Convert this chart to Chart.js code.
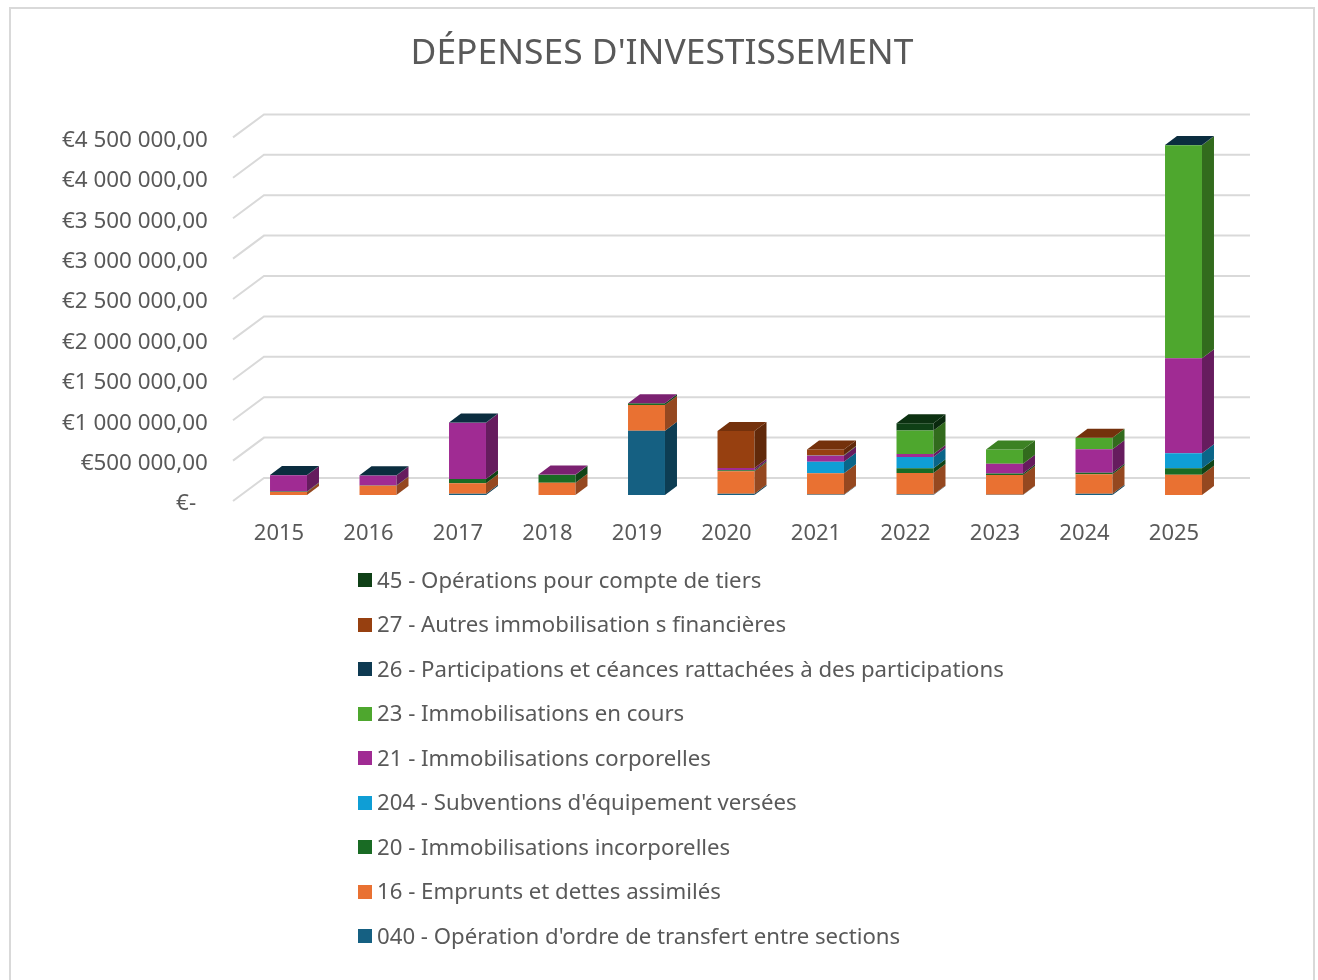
<!DOCTYPE html>
<html lang="fr">
<head>
<meta charset="utf-8">
<title>Dépenses d'investissement</title>
<script src="https://cdn.jsdelivr.net/npm/chart.js@4"></script>
<style>
    html, body { margin: 0; padding: 0; background: #fff; overflow: hidden; }
    body { width: 1318px; height: 980px; position: relative; font-family: "Noto Sans", sans-serif; }
    #card { position: absolute; left: 9px; top: 7px; width: 1302px; height: 1000px; border: 2px solid #d9d9d9; }
    #chart { position: absolute; left: 0; top: 0; }
    #legend { position: absolute; left: 347px; top: 548px; margin: 0; padding: 0; list-style: none; }
    #legend li { height: 44.5px; display: flex; align-items: center; color: #595959; font-size: 22.2px; white-space: nowrap; }
    #legend i { display: block; width: 14px; height: 14px; margin: 2px 5px 0 0; }
</style>
</head>
<body>
<div id="card">
    <canvas id="chart" width="1302" height="560"></canvas>
    <ul id="legend"></ul>
</div>
<script>
const years = ['2015', '2016', '2017', '2018', '2019', '2020', '2021', '2022', '2023', '2024', '2025'];
const yTickLabels = ['€-\u00a0\u00a0', '€500 000,00', '€1 000 000,00', '€1 500 000,00', '€2 000 000,00', '€2 500 000,00', '€3 000 000,00', '€3 500 000,00', '€4 000 000,00', '€4 500 000,00'];

const s040 = [0, 0, 16000, 0, 796000, 14000, 6000, 5000, 3000, 15000, 0];
const s16 = [36000, 115000, 128000, 153000, 318000, 280000, 264000, 268000, 243000, 243000, 252000];
const s20 = [8000, 3000, 54000, 99000, 20000, 12000, 0, 58000, 20000, 16000, 78000];
const s204 = [0, 0, 0, 0, 0, 0, 140000, 140000, 0, 0, 186000];
const s21 = [200000, 124000, 697000, 2000, 1000, 29000, 78000, 37000, 120000, 293000, 1176000];
const s23 = [0, 0, 0, 0, 0, 0, 8000, 289000, 177000, 140000, 2636000];
const s26 = [2000, 2000, 2000, 0, 0, 0, 0, 0, 0, 0, 2000];
const s27 = [0, 0, 0, 0, 0, 458000, 66000, 0, 0, 2000, 0];
const s45 = [0, 0, 0, 0, 0, 0, 0, 91000, 0, 0, 0];

const series = [
    { label: "040 - Opération d'ordre de transfert entre sections", data: s040, color: '#156082' },
    { label: '16 - Emprunts et dettes assimilés', data: s16, color: '#E97132' },
    { label: '20 - Immobilisations incorporelles', data: s20, color: '#196B24' },
    { label: "204 - Subventions d'équipement versées", data: s204, color: '#0F9ED5' },
    { label: '21 - Immobilisations corporelles', data: s21, color: '#A02B93' },
    { label: '23 - Immobilisations en cours', data: s23, color: '#4EA72E' },
    { label: '26 - Participations et céances rattachées à des participations', data: s26, color: '#0E3A52' },
    { label: '27 - Autres immobilisation s financières', data: s27, color: '#974010' },
    { label: '45 - Opérations pour compte de tiers', data: s45, color: '#0F4016' }
];

// darken a #rrggbb colour for the faces of the 3D bars
function shade(hex, f) {
    const n = parseInt(hex.slice(1), 16);
    const r = Math.round((n >> 16 & 255) * f);
    const g = Math.round((n >> 8 & 255) * f);
    const b = Math.round((n & 255) * f);
    return `rgb(${r},${g},${b})`;
}

function poly(ctx, pts, fill) {
    ctx.beginPath();
    pts.forEach((p, i) => i ? ctx.lineTo(p[0], p[1]) : ctx.moveTo(p[0], p[1]));
    ctx.closePath();
    ctx.fillStyle = fill;
    ctx.fill();
}

// the title is centred on the card, not on the padded plot
const centerTitle = {
    id: 'centerTitle',
    afterLayout(chart) {
        chart.titleBlock.right = chart.width;
    }
};

// walls of the 3D frame, behind the bars
const wallGrid = {
    id: 'wallGrid',
    beforeDatasetsDraw(chart) {
        const ctx = chart.ctx;
        const y = chart.scales.y;
        ctx.save();
        ctx.strokeStyle = '#d9d9d9';
        ctx.lineWidth = 2;
        y.ticks.forEach(t => {
            const p = y.getPixelForValue(t.value);
            ctx.beginPath();
            ctx.moveTo(222, p + 6);
            ctx.lineTo(253, p - 17);
            ctx.lineTo(1239, p - 17);
            ctx.stroke();
        });
        ctx.restore();
    }
};

// side and top faces of each stacked bar
const barFaces = {
    id: 'barFaces',
    afterDatasetsDraw(chart) {
        const ctx = chart.ctx;
        const dx = 12, dy = -9;
        ctx.save();
        years.forEach((yr, i) => {
            let top = null;
            chart.data.datasets.forEach((ds, d) => {
                if (!ds.data[i]) return;
                const bar = chart.getDatasetMeta(d).data[i];
                const right = bar.x + bar.width / 2;
                poly(ctx, [[right, bar.y], [right + dx, bar.y + dy], [right + dx, bar.base + dy], [right, bar.base]], shade(ds.backgroundColor, 0.64));
                top = { bar, color: ds.backgroundColor };
            });
            if (top) {
                const left = top.bar.x - top.bar.width / 2;
                const right = top.bar.x + top.bar.width / 2;
                const py = top.bar.y;
                poly(ctx, [[left, py], [left + dx, py + dy], [right + dx, py + dy], [right, py]], shade(top.color, 0.77));
            }
        });
        ctx.restore();
    }
};

new Chart(document.getElementById('chart').getContext('2d'), {
    type: 'bar',
    data: {
        labels: years,
        datasets: series.map(s => ({
            label: s.label,
            data: s.data,
            backgroundColor: s.color,
            barPercentage: 0.413,
            categoryPercentage: 1
        }))
    },
    plugins: [centerTitle, wallGrid, barFaces],
    options: {
        responsive: false,
        animation: false,
        layout: { autoPadding: false, padding: { left: 0, right: 84.75, top: 0, bottom: 14 } },
        plugins: {
            legend: { display: false },
            tooltip: { enabled: false },
            title: {
                display: true,
                text: "DÉPENSES D'INVESTISSEMENT",
                color: '#595959',
                font: { family: 'Noto Sans', size: 35.4, weight: 'normal' },
                padding: { top: 24, bottom: 55.9 }
            }
        },
        scales: {
            x: {
                stacked: true,
                afterFit: s => { s.height = 60; },
                border: { display: false },
                grid: { display: false, drawTicks: false },
                ticks: {
                    color: '#595959',
                    font: { family: 'Noto Sans', size: 22 },
                    padding: 26,
                    labelOffset: -9.5,
                    maxRotation: 0,
                    autoSkip: false
                }
            },
            y: {
                stacked: true,
                min: 0,
                max: 4500000,
                afterFit: s => { s.width = 232.75; },
                border: { display: false },
                grid: { display: false, drawTicks: false },
                ticks: {
                    stepSize: 500000,
                    color: '#595959',
                    font: { family: 'Noto Sans', size: 22.4 },
                    padding: 36,
                    labelOffset: 9,
                    callback: (v, i) => yTickLabels[i]
                }
            }
        }
    }
});

const legend = document.getElementById('legend');
series.slice().reverse().forEach(s => {
    const li = document.createElement('li');
    const box = document.createElement('i');
    box.style.background = s.color;
    li.appendChild(box);
    li.appendChild(document.createTextNode(s.label));
    legend.appendChild(li);
});
</script>
</body>
</html>
